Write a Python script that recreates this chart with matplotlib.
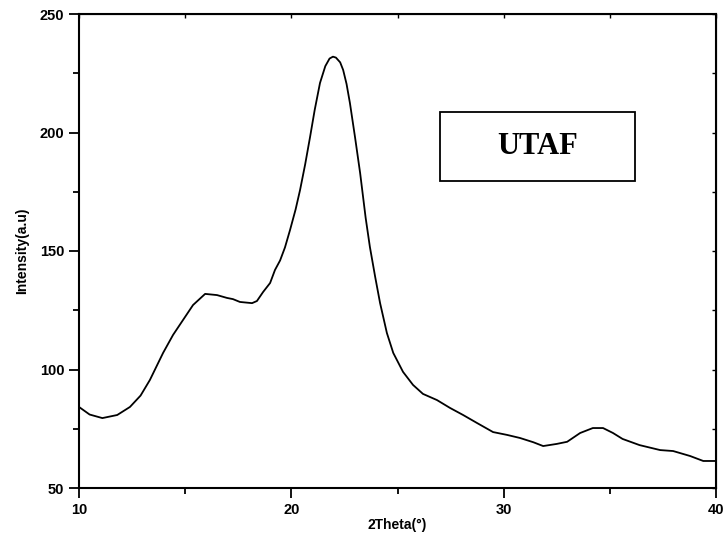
import numpy as np
import matplotlib.pyplot as plt
from matplotlib.ticker import MultipleLocator
from matplotlib.patches import Rectangle

# values
two_theta = [10.0, 10.5, 11.1, 11.8, 12.4, 12.9, 13.34, 13.96, 14.43, 14.9, 15.37,
             15.94, 16.5, 16.97, 17.25, 17.58, 18.15, 18.38, 18.67, 19.0, 19.23,
             19.47, 19.7, 19.94, 20.2, 20.41, 20.65, 20.88, 21.1, 21.35, 21.6,
             21.8, 21.96, 22.1, 22.3, 22.44, 22.6, 22.76, 23.0, 23.24, 23.5,
             23.7, 23.95, 24.18, 24.5, 24.8, 25.26, 25.73, 26.2, 26.86, 27.47,
             28.09, 28.75, 29.5, 30.16, 30.77, 31.4, 31.86, 32.5, 32.99, 33.6,
             34.2, 34.68, 35.15, 35.6, 36.4, 37.37, 37.98, 38.78, 39.4, 40.0]
intensity = [84.2, 81.0, 79.5, 80.8, 84.2, 89.0, 95.6, 107.0, 114.6, 120.9, 127.2,
             131.9, 131.4, 130.2, 129.7, 128.5, 128.0, 128.9, 132.7, 136.5, 142.0,
             146.0, 151.5, 158.9, 167.5, 175.7, 186.5, 198.0, 209.5, 220.9, 228.0,
             231.2, 232.0, 231.6, 229.6, 226.4, 220.5, 212.4, 198.0, 182.9, 164.0,
             151.7, 139.0, 128.0, 115.4, 107.0, 99.0, 93.5, 89.7, 87.1, 83.8,
             80.8, 77.4, 73.6, 72.4, 71.1, 69.3, 67.7, 68.6, 69.5, 73.2,
             75.3, 75.3, 73.2, 70.7, 68.1, 66.0, 65.6, 63.5, 61.4, 61.4]

sample_name = "UTAF"

plt.rcParams['font.family'] = ['Liberation Sans', 'DejaVu Sans']

fig = plt.figure(figsize=(7.24, 5.41), dpi=100)
ax = fig.add_axes([79/724, (541-488)/541, 637/724, 474/541])

ax.plot(two_theta, intensity, color='black', linewidth=1.3)

ax.set_xlim(10, 40)
ax.set_ylim(50, 250)
ax.xaxis.set_major_locator(MultipleLocator(10))
ax.xaxis.set_minor_locator(MultipleLocator(5))
ax.yaxis.set_major_locator(MultipleLocator(50))
ax.yaxis.set_minor_locator(MultipleLocator(25))

for s in ax.spines.values():
    s.set_linewidth(1.5)

ax.tick_params(which='major', direction='out', length=7, width=1.3,
               labelsize=10.5)
ax.tick_params(which='minor', direction='out', length=4, width=1.3)
for lab in ax.get_xticklabels() + ax.get_yticklabels():
    lab.set_fontweight('bold')

# top / right ticks point inward
secx = ax.secondary_xaxis('top')
secx.set_xticks([10, 20, 30, 40])
secx.xaxis.set_minor_locator(MultipleLocator(5))
secx.tick_params(which='both', direction='in', length=3, width=1.0, labeltop=False)
secy = ax.secondary_yaxis('right')
secy.set_yticks([50, 100, 150, 200, 250])
secy.yaxis.set_minor_locator(MultipleLocator(25))
secy.tick_params(which='both', direction='in', length=3, width=1.0, labelright=False)

ax.set_xlabel("2Theta(°)", fontsize=10, fontweight='bold', labelpad=1)
ax.set_ylabel("Intensity(a.u)", fontsize=10, fontweight='bold', labelpad=8)

# label box
ax.add_patch(Rectangle((0.567, 0.648), 0.306, 0.145, transform=ax.transAxes,
                       facecolor='white', edgecolor='black', linewidth=1.3))
ax.text(0.72, 0.72, sample_name, transform=ax.transAxes, ha='center', va='center',
        fontsize=22, fontweight='bold', family=['Liberation Serif', 'DejaVu Serif'])

fig.savefig('out.png', dpi=100)
